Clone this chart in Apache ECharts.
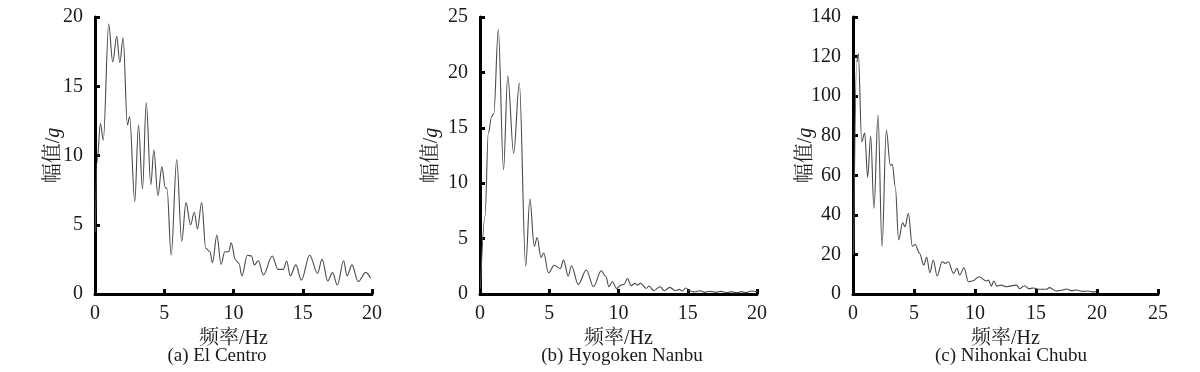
<!DOCTYPE html>
<html>
<head>
<meta charset="utf-8">
<script src="https://cdn.jsdelivr.net/npm/echarts@6/dist/echarts.min.js"></script>
<style>
html,body{margin:0;padding:0;background:#fff;}
#c{width:1200px;height:372px;}
</style>
</head>
<body>
<div id="c"></div>
<script>
// ---- Data ----
const freqA = [0.02,0.15,0.39,0.6,0.99,1.28,1.57,1.79,2.03,2.34,2.5,2.87,3.14,3.43,3.7,4.03,4.25,4.54,4.83,5.07,5.2,5.5,5.9,6.26,6.57,6.9,7.17,7.4,7.7,8.0,8.3,8.48,8.8,9.1,9.37,9.66,9.83,10.15,10.4,10.6,11.0,11.3,11.5,11.8,12.15,12.8,13.2,13.6,13.84,14.1,14.5,14.9,15.5,16.06,16.4,16.8,17.15,17.5,17.95,18.2,18.55,19.0,19.55,19.9];
const ampA  = [4.5,9.5,12.3,11.1,19.5,16.75,18.6,16.7,18.5,12.2,12.8,6.66,12.2,7.6,13.8,7.9,10.4,7.1,9.2,7.7,7.6,2.8,9.7,3.8,6.6,5.0,5.9,4.7,6.6,3.3,3.05,2.26,4.25,2.14,3.05,3.05,3.7,2.45,2.2,1.3,2.8,2.74,2.1,2.4,1.37,2.74,1.78,1.78,2.38,1.3,2.1,1.0,2.8,1.5,2.5,0.94,1.54,0.65,2.4,1.3,2.1,0.9,1.56,1.13];

const freqB = [0.03,0.36,0.6,0.84,1.0,1.32,1.7,2.0,2.43,2.84,3.3,3.6,3.92,4.13,4.4,4.6,4.95,5.36,5.8,6.03,6.37,6.6,7.1,7.67,8.2,8.75,9.1,9.3,9.56,9.86,10.17,10.4,10.65,10.9,11.2,11.35,11.6,12.0,12.2,12.55,13.0,13.3,13.7,14.1,14.4,14.6,14.85,15.2,15.5,15.9,16.2,16.6,17.0,17.4,17.8,18.15,18.5,18.9,19.2,19.6,20.0];
const ampB  = [0.5,7.0,14.5,16.0,16.3,23.9,11.2,19.7,12.7,19.05,2.5,8.6,4.3,5.1,3.3,3.7,1.9,2.6,2.3,3.06,1.6,2.55,0.87,2.16,0.66,2.1,1.56,0.66,1.1,0.5,0.8,0.87,1.4,0.75,0.96,0.8,0.96,0.5,0.72,0.3,0.66,0.3,0.6,0.3,0.42,0.27,0.54,0.27,0.18,0.3,0.15,0.24,0.15,0.24,0.12,0.21,0.12,0.21,0.12,0.27,0.2];

const freqC = [0.05,0.3,0.44,0.71,0.96,1.2,1.45,1.72,2.05,2.38,2.73,3.06,3.22,3.47,3.74,4.07,4.26,4.54,4.86,5.1,5.46,5.8,6.04,6.3,6.58,6.9,7.3,7.57,7.8,8.25,8.52,8.74,9.1,9.45,9.84,10.33,10.93,11.1,11.34,11.53,11.8,12.16,12.57,13.4,13.66,14.07,14.4,14.8,15.3,15.85,16.1,16.67,17.2,17.5,17.9,18.3,18.85,19.26,19.67,19.9];
const ampC  = [20,117,121.5,77,81.4,59,79.8,43.2,90.4,23.9,82.8,65,65.5,54,27.3,36,34,40.7,24.2,25,20.5,14.6,18.5,10.8,17.2,9.1,16.3,15.5,16.3,10.4,13,9.6,13.3,6.2,6.7,8.75,6.6,7,4.0,6.6,4.0,4.5,3.7,4.5,2.7,4.2,2.7,3.0,2.4,2.4,3.2,1.5,2.0,2.5,1.7,2.0,1.35,1.5,1.0,1.2];

const ticksX = {a:[0,20,5], b:[0,20,5], c:[0,25,5]};
const ticksY = {a:[0,20,5], b:[0,25,5], c:[0,140,20]};
const captions = ['(a) El Centro','(b) Hyogoken Nanbu','(c) Nihonkai Chubu'];
const xName = '频率/Hz';
const yName = '幅值/{i|g}';

// ---- Chart ----
const FONT = '"Liberation Serif","Times New Roman","Noto Serif CJK SC","Noto Sans CJK SC",serif';
const TXT = '#1a1a1a';
const zip = (xs, ys) => xs.map((x, i) => [x, ys[i]]);

const grids = [
  {left: 95, top: 17, width: 277, height: 277},
  {left: 480, top: 17, width: 277, height: 277},
  {left: 853, top: 17, width: 305, height: 277}
];
const keys = ['a','b','c'];
const yGaps = [31, 38, 37];

function xAxisFor(i){
  const t = ticksX[keys[i]];
  return {
    type: 'value', gridIndex: i, min: t[0], max: t[1], interval: t[2],
    name: xName, nameLocation: 'middle', nameGap: 35, nameMoveOverlap: false,
    nameTextStyle: {fontFamily: FONT, fontSize: 20, color: TXT},
    axisLine: {show: true, lineStyle: {color: '#000', width: 3}},
    axisTick: {show: true, inside: true, length: 5, lineStyle: {color: '#000', width: 3}},
    axisLabel: {fontFamily: FONT, fontSize: 20, color: TXT, margin: 10},
    splitLine: {show: false}
  };
}
function yAxisFor(i){
  const t = ticksY[keys[i]];
  return {
    type: 'value', gridIndex: i, min: t[0], max: t[1], interval: t[2],
    name: yName, nameLocation: 'middle', nameGap: yGaps[i], nameRotate: 90, nameMoveOverlap: false,
    nameTextStyle: {fontFamily: FONT, fontSize: 20, color: TXT,
      rich: {i: {fontFamily: FONT, fontSize: 20, color: TXT, fontStyle: 'italic'}}},
    axisLine: {show: true, onZero: false, lineStyle: {color: '#000', width: 3}},
    axisTick: {show: true, inside: true, length: 5, lineStyle: {color: '#000', width: 3}},
    axisLabel: {fontFamily: FONT, fontSize: 20, color: TXT, margin: 12},
    splitLine: {show: false}
  };
}
const dataSets = [zip(freqA, ampA), zip(freqB, ampB), zip(freqC, ampC)];
const capX = [217, 622, 1011];

const option = {
  animation: false,
  backgroundColor: '#fff',
  grid: grids,
  xAxis: [0,1,2].map(xAxisFor),
  yAxis: [0,1,2].map(yAxisFor),
  series: dataSets.map((d, i) => ({
    type: 'line', xAxisIndex: i, yAxisIndex: i, data: d,
    showSymbol: false, smooth: 0.35, smoothMonotone: 'x',
    lineStyle: {color: '#4a4a4a', width: 1.1}
  })),
  graphic: captions.map((c, i) => ({
    type: 'text', x: capX[i], y: 347,
    style: {text: c, font: '19px ' + FONT, fill: TXT, textAlign: 'center', textVerticalAlign: 'top'}
  }))
};

const chart = echarts.init(document.getElementById('c'), null, {renderer: 'canvas'});
chart.setOption(option);
</script>
</body>
</html>
